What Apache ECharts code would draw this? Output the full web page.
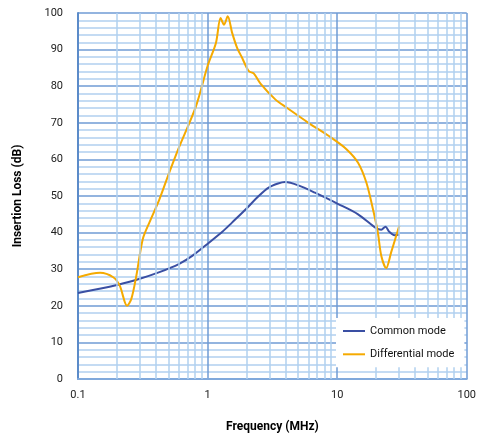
<!DOCTYPE html>
<html>
<head>
<meta charset="utf-8">
<script src="https://cdn.jsdelivr.net/npm/echarts@6/dist/echarts.min.js"></script>
<style>
  html, body { margin: 0; padding: 0; background: #fff; }
  #chart { width: 479px; height: 438px; }
</style>
</head>
<body>
<div id="chart"></div>
<script>
// common mode curve
var cmFreq = [0.1, 0.15, 0.2, 0.3, 0.425, 0.6, 0.766, 1.03, 1.3, 1.55, 2.0, 2.48, 2.96, 3.5, 3.97, 5.02, 6.74, 10.2, 14.5, 20, 21.9, 23.6, 25.3, 27.7, 30.2]
var cmLoss = [23.5, 24.7, 25.7, 27.4, 29.2, 31.4, 33.7, 37.3, 40.2, 42.8, 46.6, 50, 52.3, 53.4, 53.8, 52.9, 50.9, 47.8, 45, 41.2, 40.8, 41.6, 40.2, 39.3, 39.4]

// differential mode curve
var dmFreq = [0.1, 0.148, 0.187, 0.21, 0.239, 0.258, 0.282, 0.316, 0.356, 0.425, 0.5, 0.594, 0.813, 1.0, 1.16, 1.26, 1.34, 1.43, 1.55, 1.69, 1.85, 2.08, 2.27, 2.56, 3.33, 4.09, 6.0, 9.04, 11.8, 14.5, 16.8, 18.9, 20.6, 21.9, 23.9, 26.1, 30.2]
var dmLoss = [27.8, 29, 27.8, 25.5, 20, 21.9, 28.2, 38.2, 42.8, 49.1, 55.9, 62.8, 74.5, 85.5, 91.8, 98.6, 96.8, 99.1, 94.5, 90.5, 87.7, 84.1, 83.5, 80.7, 76.4, 74.1, 70, 65.9, 62.8, 59.1, 53.7, 46.4, 40.1, 33.7, 30.3, 34.6, 41.9]

var seriesNames = ['Common mode', 'Differential mode']
var xTicks = [0.1, 1, 10, 100]
var minorFreq = [0.2, 0.3, 0.4, 0.5, 0.6, 0.7, 0.8, 0.9, 2, 3, 4, 5, 6, 7, 8, 9, 20, 30, 40, 50, 60, 70, 80, 90]

function pairs(xs, ys) {
  return xs.map(function (x, i) { return [x, ys[i]] })
}

var myChart = echarts.init(document.getElementById('chart'), null, { renderer: 'canvas' })
var option = {
  backgroundColor: '#fff',
  animation: false,
  textStyle: { fontFamily: 'Roboto' },
  grid: { left: 78, right: 9.5, top: 13, bottom: 57.7 },
  legend: {
    data: seriesNames,
    orient: 'vertical',
    left: 336,
    top: 318,
    z: 20,
    backgroundColor: '#fff',
    padding: [7, 10, 7, 7],
    icon: 'rect',
    itemWidth: 22,
    itemHeight: 2,
    itemGap: 11.3,
    textStyle: { fontFamily: 'Roboto', fontSize: 11, color: '#111', lineHeight: 12 }
  },
  xAxis: {
    type: 'log',
    logBase: 10,
    min: 0.1,
    max: 100,
    name: 'Frequency (MHz)',
    nameLocation: 'middle',
    nameGap: 42,
    nameTextStyle: { fontFamily: 'Roboto', fontWeight: 'bold', fontSize: 12, color: '#000' },
    axisLine: { lineStyle: { color: '#80a9dc', width: 2 } },
    axisTick: { show: false },
    axisLabel: {
      fontSize: 11, color: '#222', margin: 11,
      formatter: function (v) { return xTicks.indexOf(+v.toPrecision(3)) >= 0 ? String(+v.toPrecision(3)) : '' }
    },
    splitLine: { show: true, lineStyle: { color: '#6f9bd4', width: 1.5 } }
  },
  yAxis: {
    type: 'value',
    min: 0,
    max: 100,
    interval: 10,
    name: 'Insertion Loss (dB)',
    nameLocation: 'middle',
    nameGap: 54,
    nameTextStyle: { fontFamily: 'Roboto', fontWeight: 'bold', fontSize: 12, color: '#000' },
    axisLine: { show: true, lineStyle: { color: '#5b8bc9', width: 2 } },
    axisTick: { show: false },
    axisLabel: { fontSize: 11, color: '#222', margin: 15 },
    splitLine: { show: true, lineStyle: { color: '#6f9bd4', width: 1.5 } },
    minorTick: { show: false, splitNumber: 5 },
    minorSplitLine: { show: true, lineStyle: { color: '#b1d0ef', width: 1.5 } }
  },
  series: [
    {
      // minor vertical grid lines
      type: 'line',
      data: [],
      z: 1,
      silent: true,
      markLine: {
        silent: true,
        symbol: 'none',
        label: { show: false },
        lineStyle: { color: '#b1d0ef', width: 1.5, type: 'solid' },
        data: minorFreq.map(function (f) { return { xAxis: f } })
      }
    },
    {
      name: seriesNames[0],
      type: 'line',
      smooth: 0.3,
      symbol: 'none',
      z: 3,
      lineStyle: { color: '#3a4fa3', width: 2 },
      itemStyle: { color: '#3a4fa3' },
      data: pairs(cmFreq, cmLoss)
    },
    {
      name: seriesNames[1],
      type: 'line',
      smooth: 0.3,
      symbol: 'none',
      z: 4,
      lineStyle: { color: '#f5aa00', width: 2 },
      itemStyle: { color: '#f5aa00' },
      data: pairs(dmFreq, dmLoss)
    }
  ]
}
myChart.setOption(option)
</script>
</body>
</html>
